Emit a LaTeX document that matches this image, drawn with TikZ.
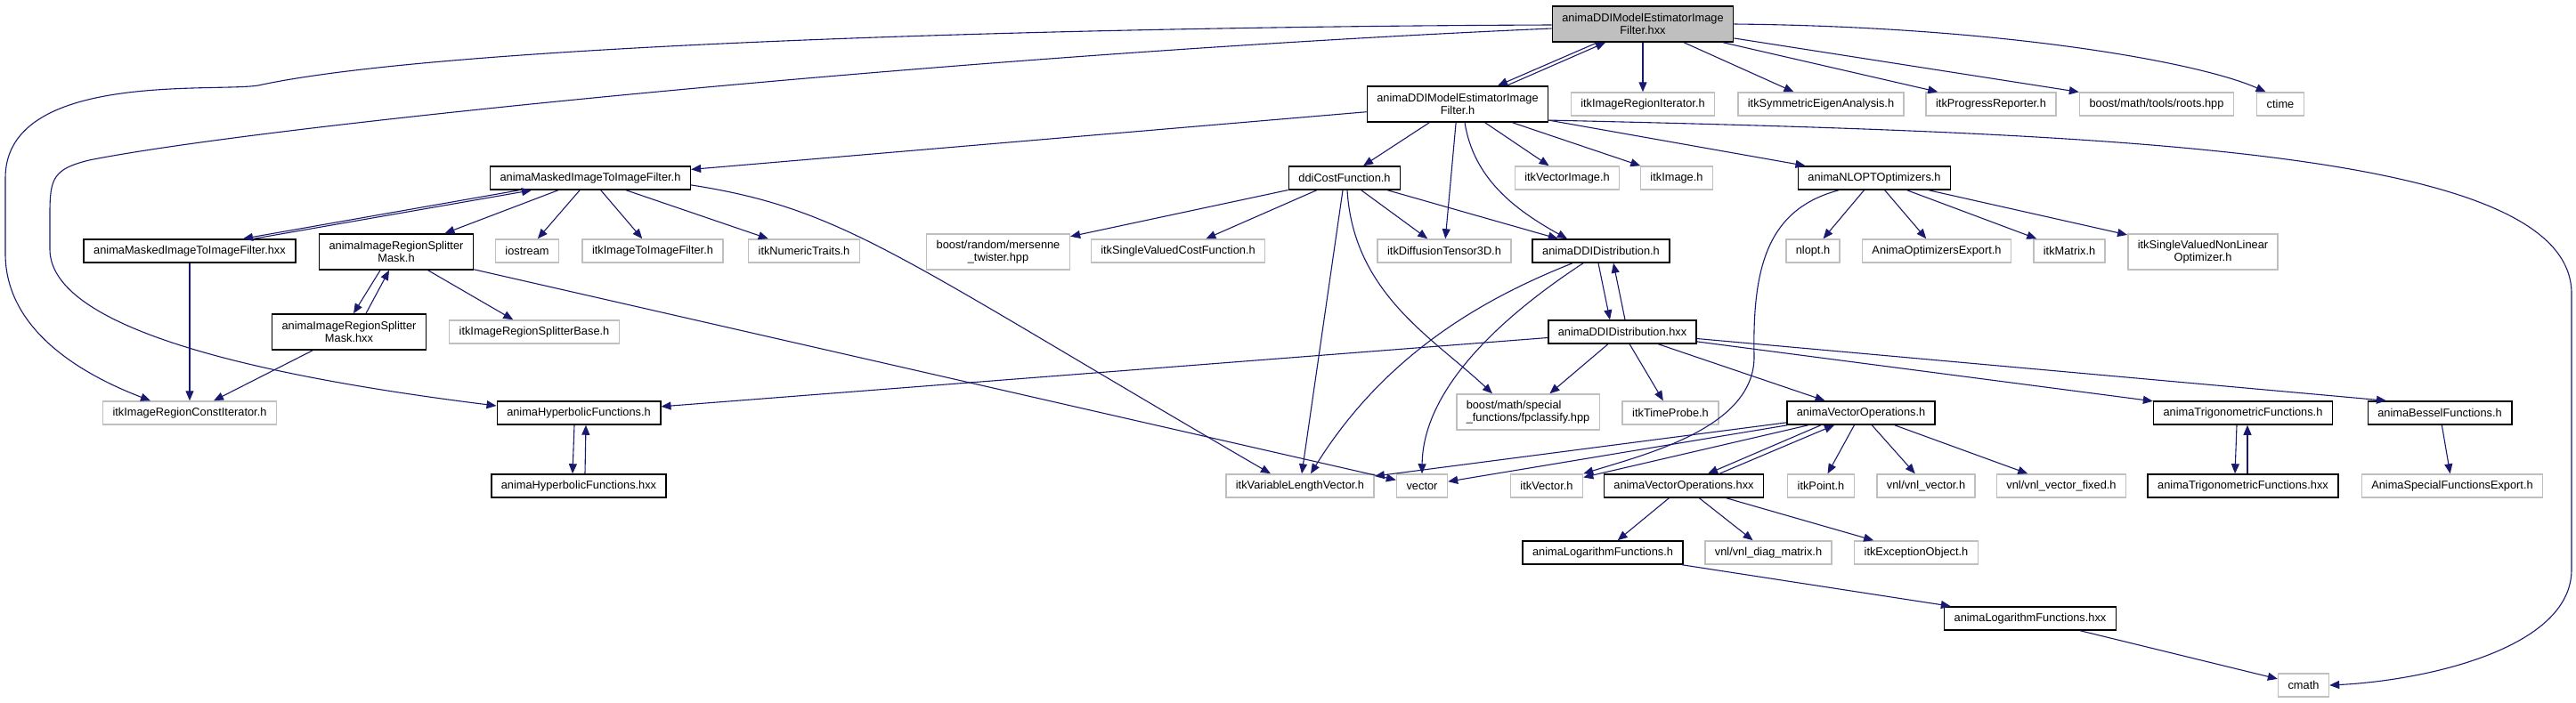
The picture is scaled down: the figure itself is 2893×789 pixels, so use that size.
\documentclass[tikz,border=0pt]{standalone}
\usepackage{fontspec}
\setmainfont{Liberation Sans}
\usetikzlibrary{arrows.meta,calc}
\definecolor{edgeblue}{HTML}{191970}
\definecolor{extgray}{HTML}{BFBFBF}

\begin{document}
\begin{tikzpicture}[
    x=0.5pt, y=-0.5pt,
    hdr/.style={rectangle, draw=black, line width=0.75pt, fill=white, font={\fontsize{6.4}{7}\selectfont}, inner xsep=5.5pt, inner ysep=1pt, minimum height=13pt, align=center},
    ext/.style={hdr, draw=extgray},
    two/.style={minimum height=20pt},
    dep/.style={draw=edgeblue, line width=0.55pt, -{Triangle[length=5.5pt,width=4.5pt]}}
]
    \useasboundingbox (0,0) rectangle (2893,789);

    \node[hdr, fill=extgray, two] (main) at (1845,27) {animaDDIModelEstimatorImage\\Filter.hxx};
    \node[hdr, two] (est) at (1637,117) {animaDDIModelEstimatorImage\\Filter.h};
    \node[ext] (rit) at (1845,117) {itkImageRegionIterator.h};
    \node[ext] (sym) at (2045,117) {itkSymmetricEigenAnalysis.h};
    \node[ext] (prog) at (2236,117) {itkProgressReporter.h};
    \node[ext] (roots) at (2422,117) {boost/math/tools/roots.hpp};
    \node[ext] (ctime) at (2561,117) {ctime};
    \node[hdr] (mask) at (663,200) {animaMaskedImageToImageFilter.h};
    \node[hdr] (cost) at (1510,200) {ddiCostFunction.h};
    \node[ext] (vimg) at (1760,200) {itkVectorImage.h};
    \node[ext] (img) at (1883,200) {itkImage.h};
    \node[hdr] (nlopt) at (2105,200) {animaNLOPTOptimizers.h};
    \node[hdr] (maskx) at (213,282) {animaMaskedImageToImageFilter.hxx};
    \node[hdr, two] (split) at (445,283) {animaImageRegionSplitter\\Mask.h};
    \node[ext] (iostr) at (592,282) {iostream};
    \node[ext] (i2i) at (733,282) {itkImageToImageFilter.h};
    \node[ext] (numt) at (903,282) {itkNumericTraits.h};
    \node[ext, two] (mt) at (1121,283) {boost/random/mersenne\\\_twister.hpp};
    \node[ext] (svcf) at (1323,282) {itkSingleValuedCostFunction.h};
    \node[ext] (dt3) at (1622,282) {itkDiffusionTensor3D.h};
    \node[hdr] (dist) at (1798,282) {animaDDIDistribution.h};
    \node[ext] (nloh) at (2036,282) {nlopt.h};
    \node[ext] (optexp) at (2175,282) {AnimaOptimizersExport.h};
    \node[ext] (mat) at (2324,282) {itkMatrix.h};
    \node[ext, two] (svnlo) at (2474,283) {itkSingleValuedNonLinear\\Optimizer.h};
    \node[hdr, two] (splitx) at (392,373) {animaImageRegionSplitter\\Mask.hxx};
    \node[ext] (sbase) at (600,373) {itkImageRegionSplitterBase.h};
    \node[hdr] (distx) at (1822,373) {animaDDIDistribution.hxx};
    \node[ext] (rci) at (213,464) {itkImageRegionConstIterator.h};
    \node[hdr] (hyp) at (650,464) {animaHyperbolicFunctions.h};
    \node[ext, two, align=left] (fpc) at (1716,463) {boost/math/special\\\_functions/fpclassify.hpp};
    \node[ext] (tprobe) at (1876,464) {itkTimeProbe.h};
    \node[hdr] (vop) at (2090,464) {animaVectorOperations.h};
    \node[hdr] (trig) at (2519,464) {animaTrigonometricFunctions.h};
    \node[hdr] (bes) at (2740,464) {animaBesselFunctions.h};
    \node[hdr] (hypx) at (650,546) {animaHyperbolicFunctions.hxx};
    \node[ext] (vlv) at (1460,546) {itkVariableLengthVector.h};
    \node[ext] (vec) at (1597,546) {vector};
    \node[ext] (itkv) at (1737,546) {itkVector.h};
    \node[hdr] (vopx) at (1891,546) {animaVectorOperations.hxx};
    \node[ext] (itkpt) at (2045,546) {itkPoint.h};
    \node[ext] (vnlv) at (2163,546) {vnl/vnl\_vector.h};
    \node[ext] (vnlvf) at (2315,546) {vnl/vnl\_vector\_fixed.h};
    \node[hdr] (trigx) at (2519,546) {animaTrigonometricFunctions.hxx};
    \node[ext] (sfe) at (2754,546) {AnimaSpecialFunctionsExport.h};
    \node[hdr] (lgf) at (1800,621) {animaLogarithmFunctions.h};
    \node[ext] (diag) at (1986,621) {vnl/vnl\_diag\_matrix.h};
    \node[ext] (exc) at (2152,621) {itkExceptionObject.h};
    \node[hdr] (lgfx) at (2280,695) {animaLogarithmFunctions.hxx};
    \node[ext] (cmath) at (2587,770) {cmath};

    % main file
    \draw[dep] ($(main.south)+(-51,0)$) -- ($(est.north)+(45,0)$);
    \draw[dep] ($(est.north)+(55,0)$) -- ($(main.south)+(-42,0)$);
    \draw[dep] (main) -- (rit);
    \draw[dep] (main) -- (sym);
    \draw[dep] (main) -- (prog);
    \draw[dep] (main) -- (roots);
    \draw[dep] (main.east) .. controls (2250,30) and (2470,70) .. (ctime.140);
    \draw[dep] ($(main.west)+(0,1)$) .. controls (1200,30) and (500,50) .. (290,96) .. controls (240,104) and (6,80) .. (6,200) -- (6,285) .. controls (6,370) and (90,420) .. ($(rci.north)+(-44,0)$);
    \draw[dep] ($(main.west)+(0,5)$) .. controls (1100,60) and (300,140) .. (100,180) .. controls (60,190) and (56,200) .. (56,240) -- (56,280) .. controls (56,380) and (350,430) .. ($(hyp.west)+(0,-8)$);

    \draw[dep] (est) -- (mask);
    \draw[dep] (est) -- (cost);
    \draw[dep] (est) -- (dt3);
    \draw[dep] ($(est.south)+(8,0)$) .. controls (1655,200) and (1700,235) .. ($(dist.north)+(-38,0)$);
    \draw[dep] (est) -- (vimg);
    \draw[dep] (est) -- (img);
    \draw[dep] (est) -- (nlopt);
    \draw[dep] (est.-10) .. controls (2400,150) and (2888,170) .. (2888,330) -- (2888,640) .. controls (2888,730) and (2720,765) .. (cmath.east);

    \draw[dep] ($(mask.south)+(-80,0)$) -- ($(maskx.north)+(60,0)$);
    \draw[dep] ($(maskx.north)+(72,0)$) -- ($(mask.south)+(-66,0)$);
    \draw[dep] (mask) -- (split);
    \draw[dep] (mask) -- (iostr);
    \draw[dep] (mask) -- (i2i);
    \draw[dep] (mask) -- (numt);
    \draw[dep] (mask.-4) .. controls (950,235) and (1010,290) .. ($(vlv.north)+(-33,0)$);
    \draw[dep] (maskx) -- (rci);

    \draw[dep] ($(split.south)+(-18,0)$) -- ($(splitx.north)+(5,0)$);
    \draw[dep] ($(splitx.north)+(19,0)$) -- ($(split.south)+(-8,0)$);
    \draw[dep] (split) -- (sbase);
    \draw[dep] (split) -- (vec);
    \draw[dep] (splitx) -- (rci);

    \draw[dep] ($(hyp.south)+(-5,0)$) -- ($(hypx.north)+(-7,0)$);
    \draw[dep] ($(hypx.north)+(7,0)$) -- ($(hyp.south)+(8,0)$);

    \draw[dep] (cost) -- (mt);
    \draw[dep] (cost) -- (svcf);
    \draw[dep] (cost) -- (dt3);
    \draw[dep] (cost) -- (dist);
    \draw[dep] (cost) -- (vlv);
    \draw[dep] ($(cost.south)+(3,0)$) .. controls (1520,330) and (1610,380) .. ($(fpc.north)+(-40,0)$);

    \draw[dep] ($(dist.south)+(-3,0)$) -- ($(distx.north)+(-14,0)$);
    \draw[dep] ($(distx.north)+(3,0)$) -- ($(dist.south)+(14,0)$);
    \draw[dep] ($(dist.south)+(-32,0)$) .. controls (1680,330) and (1560,390) .. ($(vlv.north)+(12,0)$);
    \draw[dep] ($(dist.south)+(-20,0)$) .. controls (1680,360) and (1598,440) .. (vec.north);

    \draw[dep] (distx) -- (fpc);
    \draw[dep] (distx) -- (tprobe);
    \draw[dep] (distx) -- (vop);
    \draw[dep] (distx) -- (hyp);
    \draw[dep] (distx) -- (trig);
    \draw[dep] (distx) -- ($(bes.north)+(-60,0)$);

    \draw[dep] (nlopt) -- (nloh);
    \draw[dep] (nlopt) -- (optexp);
    \draw[dep] (nlopt) -- (mat);
    \draw[dep] (nlopt) -- (svnlo);
    \draw[dep] ($(nlopt.south)+(-40,0)$) .. controls (1985,235) and (1968,300) .. (1970,400) .. controls (1971,480) and (1850,510) .. (itkv.north east);

    % vector operations
    \draw[dep] ($(vop.south)+(-45,0)$) -- ($(vopx.north)+(27,0)$);
    \draw[dep] ($(vopx.north)+(40,0)$) -- ($(vop.south)+(-30,0)$);
    \draw[dep] (vop) -- (vlv);
    \draw[dep] (vop) -- (vec);
    \draw[dep] (vop) -- (itkv);
    \draw[dep] (vop) -- (itkpt);
    \draw[dep] (vop) -- (vnlv);
    \draw[dep] (vop) -- (vnlvf);
    \draw[dep] (vopx) -- (lgf);
    \draw[dep] (vopx) -- (diag);
    \draw[dep] (vopx) -- (exc);
    \draw[dep] (lgf) -- (lgfx);
    \draw[dep] (lgfx) -- (cmath);

    \draw[dep] ($(trig.south)+(-7,0)$) -- ($(trigx.north)+(-9,0)$);
    \draw[dep] ($(trigx.north)+(5,0)$) -- ($(trig.south)+(5,0)$);
    \draw[dep] (bes) -- (sfe);
\end{tikzpicture}
\end{document}
